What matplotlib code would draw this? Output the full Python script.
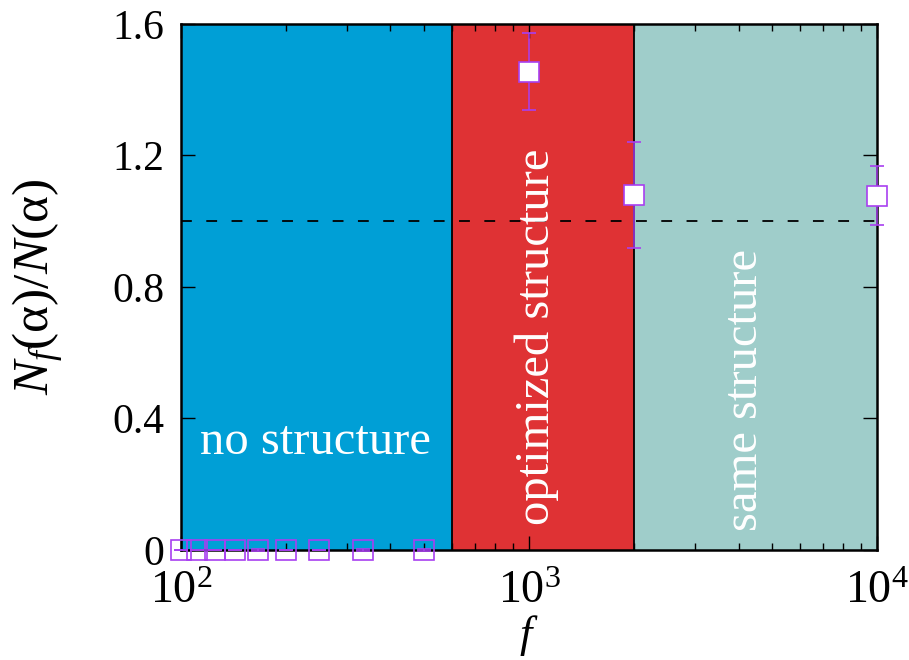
import numpy as np
import matplotlib.pyplot as plt

plt.rcParams['font.family'] = ['Liberation Serif', 'DejaVu Serif']
plt.rcParams['mathtext.fontset'] = 'custom'
plt.rcParams['mathtext.rm'] = 'Liberation Serif'
plt.rcParams['mathtext.it'] = 'Liberation Serif:italic'

# data
f_low = [100, 111, 125, 143, 167, 200, 250, 333, 500]
ratio_low = [0, 0, 0, 0, 0, 0, 0, 0, 0]
err_low = [0, 0, 0, 0, 0.002, 0, 0, 0.002, 0.004]

f_high = [1000, 2000, 10000]
ratio_high = [1.455, 1.08, 1.077]
err_high = [0.117, 0.16, 0.09]

regions = [(100, 600, '#009fd6', 'no structure'),
           (600, 2000, '#df3234', 'optimized structure'),
           (2000, 10000, '#9fcdca', 'same structure')]

purple = '#a83ff0'

fig = plt.figure(figsize=(9.09, 6.6), dpi=100)
ax = fig.add_axes([0.199, 0.1667, 0.766, 0.797])
ax.set_xscale('log')
ax.set_xlim(100, 10000)
ax.set_ylim(0, 1.6)

for x0, x1, c, lab in regions:
    ax.axvspan(x0, x1, color=c, lw=0, zorder=0)
for xb in [600, 2000]:
    ax.axvline(xb, color='black', lw=1.3, zorder=1)

ax.axhline(1.0, color='black', lw=1.3, ls=(0, (6, 8)), zorder=2)

ax.text(244, 0.329, 'no structure', color='white', fontsize=35,
        ha='center', va='center')
ax.text(1054, 0.648, 'optimized structure', color='white', fontsize=35,
        ha='center', va='center', rotation=90)
ax.text(4180, 0.487, 'same structure', color='white', fontsize=35,
        ha='center', va='center', rotation=90)

ax.errorbar(f_low, ratio_low, yerr=err_low, fmt='s', ms=15, mfc='none',
            mec=purple, mew=1.2, ecolor=purple, elinewidth=1.1, capsize=5,
            capthick=1.1, zorder=5, clip_on=False)
ax.errorbar(f_high, ratio_high, yerr=err_high, fmt='s', ms=15, mfc='white',
            mec=purple, mew=1.2, ecolor=purple, elinewidth=1.1, capsize=5,
            capthick=1.1, zorder=5, clip_on=False)

ax.set_yticks([0, 0.4, 0.8, 1.2, 1.6])
ax.set_yticklabels(['0', '0.4', '0.8', '1.2', '1.6'])
ax.tick_params(which='both', direction='in', top=True, right=True)
ax.tick_params(axis='y', pad=12, labelsize=30)
ax.tick_params(axis='x', pad=15, labelsize=33)
ax.tick_params(which='major', length=10, width=1.0)
ax.tick_params(which='minor', length=5, width=1.0)
for s in ax.spines.values():
    s.set_linewidth(1.8)
    s.set_zorder(4)

ax.set_xlabel(r'$f$', fontsize=32)
ax.xaxis.set_label_coords(0.5, -0.12)
ax.set_ylabel(r'$N_f(\mathrm{α})/N(\mathrm{α})$', fontsize=37)
ax.yaxis.set_label_coords(-0.165, 0.5)

fig.savefig('out.png', dpi=100)
